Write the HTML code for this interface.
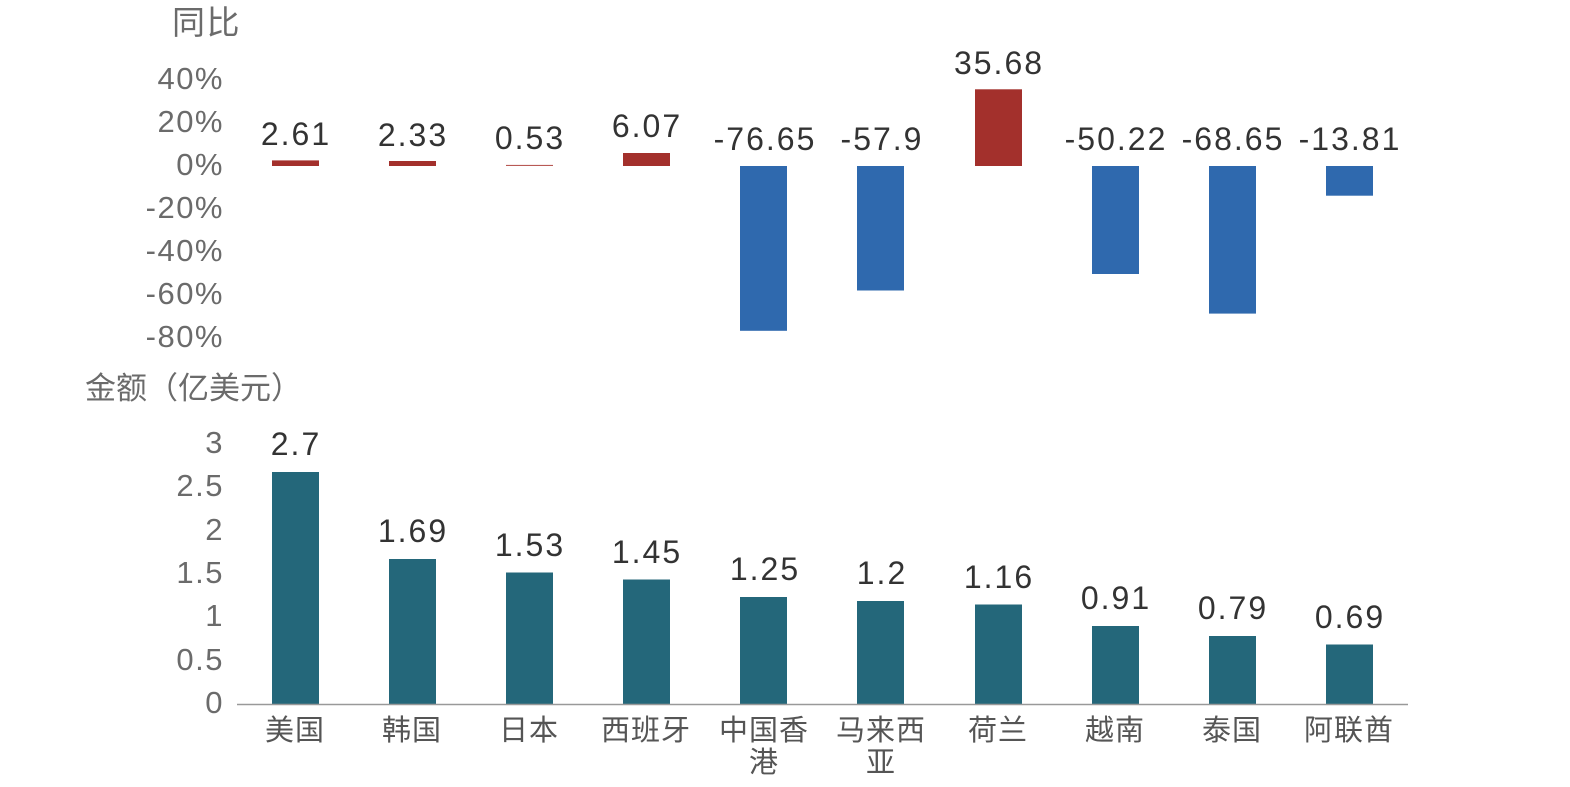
<!DOCTYPE html>
<html><head><meta charset="utf-8"><style>
html,body{margin:0;padding:0;background:#fff;}
svg{display:block;}
text{font-family:"Liberation Sans","Noto Sans CJK SC",sans-serif;}
.t{fill:#6b6b6b;font-size:31px;letter-spacing:1.5px;}
.v{fill:#333;font-size:32px;letter-spacing:2px;}
.c{fill:#555;font-size:29px;letter-spacing:1px;}
</style></head><body>
<svg width="1570" height="787" viewBox="0 0 1570 787" xmlns="http://www.w3.org/2000/svg">
<text class="t" x="172" y="34" style="font-size:33px">同比</text>
<g class="t" text-anchor="end">
<text x="224" y="89">40%</text>
<text x="224" y="132">20%</text>
<text x="224" y="175">0%</text>
<text x="224" y="218">-20%</text>
<text x="224" y="261">-40%</text>
<text x="224" y="304">-60%</text>
<text x="224" y="347">-80%</text>
</g>
<g>
<rect x="272" y="160.4" width="47" height="5.6" fill="#a3302c"/>
<rect x="389" y="161" width="47" height="5" fill="#a3302c"/>
<rect x="506" y="164.9" width="47" height="1.1" fill="#b85a55"/>
<rect x="623" y="153" width="47" height="13" fill="#a3302c"/>
<rect x="740" y="166" width="47" height="164.8" fill="#2f69ae"/>
<rect x="857" y="166" width="47" height="124.5" fill="#2f69ae"/>
<rect x="975" y="89.3" width="47" height="76.7" fill="#a3302c"/>
<rect x="1092" y="166" width="47" height="108" fill="#2f69ae"/>
<rect x="1209" y="166" width="47" height="147.6" fill="#2f69ae"/>
<rect x="1326" y="166" width="47" height="29.7" fill="#2f69ae"/>
</g>
<g class="v" text-anchor="middle">
<text x="296" y="145">2.61</text>
<text x="413" y="146">2.33</text>
<text x="530" y="149">0.53</text>
<text x="647" y="137">6.07</text>
<text x="765" y="150">-76.65</text>
<text x="882" y="150">-57.9</text>
<text x="999" y="74">35.68</text>
<text x="1116" y="150">-50.22</text>
<text x="1233" y="150">-68.65</text>
<text x="1350" y="150">-13.81</text>
</g>
<text class="t" x="85" y="399" style="letter-spacing:0">金额（亿美元）</text>
<g class="t" text-anchor="end">
<text x="224" y="453">3</text>
<text x="224" y="496">2.5</text>
<text x="224" y="540">2</text>
<text x="224" y="583">1.5</text>
<text x="224" y="626">1</text>
<text x="224" y="670">0.5</text>
<text x="224" y="713">0</text>
</g>
<g fill="#24677a">
<rect x="272" y="472" width="47" height="232"/>
<rect x="389" y="559" width="47" height="145"/>
<rect x="506" y="572.5" width="47" height="131.5"/>
<rect x="623" y="579.5" width="47" height="124.5"/>
<rect x="740" y="597" width="47" height="107"/>
<rect x="857" y="601" width="47" height="103"/>
<rect x="975" y="604.5" width="47" height="99.5"/>
<rect x="1092" y="626" width="47" height="78"/>
<rect x="1209" y="636" width="47" height="68"/>
<rect x="1326" y="644.5" width="47" height="59.5"/>
</g>
<line x1="237" y1="704.5" x2="1408" y2="704.5" stroke="#999" stroke-width="1.5"/>
<g class="v" text-anchor="middle">
<text x="296" y="455">2.7</text>
<text x="413" y="542">1.69</text>
<text x="530" y="556">1.53</text>
<text x="647" y="563">1.45</text>
<text x="765" y="580">1.25</text>
<text x="882" y="584">1.2</text>
<text x="999" y="588">1.16</text>
<text x="1116" y="609">0.91</text>
<text x="1233" y="619">0.79</text>
<text x="1350" y="628">0.69</text>
</g>
<g class="c" text-anchor="middle">
<text x="295" y="740">美国</text>
<text x="412" y="740">韩国</text>
<text x="529" y="740">日本</text>
<text x="646" y="740">西班牙</text>
<text x="764" y="740">中国香</text>
<text x="764" y="772">港</text>
<text x="881" y="740">马来西</text>
<text x="881" y="772">亚</text>
<text x="998" y="740">荷兰</text>
<text x="1115" y="740">越南</text>
<text x="1232" y="740">泰国</text>
<text x="1349" y="740">阿联酋</text>
</g>
</svg>
</body></html>
